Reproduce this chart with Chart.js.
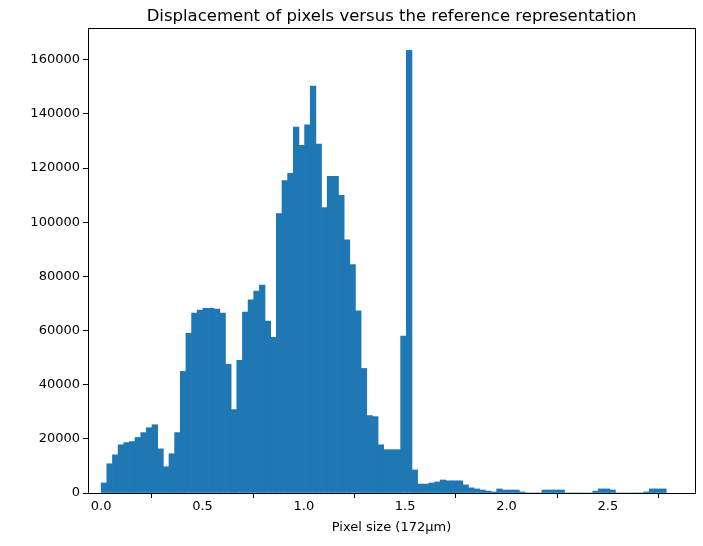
<!DOCTYPE html>
<html><head><meta charset="utf-8">
<script src="https://cdn.jsdelivr.net/npm/chart.js@4/dist/chart.umd.min.js"></script>
<style>html,body{margin:0;padding:0;background:#fff}</style>
</head><body>
<canvas id="c" width="703" height="546"></canvas>
<script>
const binStart = 0;
const binWidth = 0.02788;
const counts = [
 3700,10800,14100,17800,18600,19000,20500,22300,24100,25200,
 16300,9700,14500,22300,44900,59000,66400,67500,68200,68200,
 67900,66400,47500,30800,49000,66800,71300,74600,76800,63500,
 57500,103200,115400,118000,135100,128400,135900,150300,128800,105400,
 116900,116900,109900,93500,84300,67300,46000,28600,28200,17800,
 16000,16000,16000,57900,163500,8500,3300,3300,3700,4100,
 4800,4500,4500,4500,3000,1900,1500,1100,700,400,
 1500,1100,1100,1100,400,0,0,0,1100,1100,
 1100,1100,0,0,0,0,0,700,1500,1500,
 1100,0,0,0,0,0,400,1500,1500,1500
];
const xTicks = [0, 0.5, 1.0, 1.5, 2.0, 2.5];
const yTicks = [0, 20000, 40000, 60000, 80000, 100000, 120000, 140000, 160000];
const titleText = 'Displacement of pixels versus the reference representation';
const xLabel = 'Pixel size (172µm)';

const pts = counts.map((v, i) => ({x: binStart + (i + 0.5) * binWidth, y: v}));
const F = 'DejaVu Sans';
const frame = {id:'frame', afterDraw(ch){const a=ch.chartArea,c=ch.ctx;c.save();c.strokeStyle='#000';c.lineWidth=1;c.strokeRect(Math.round(a.left)+0.5,Math.round(a.top)+0.5,Math.round(a.right-a.left),Math.round(a.bottom-a.top));
 c.fillStyle='#000';c.textAlign='center';c.textBaseline='middle';
 c.font='16.5px "'+F+'"';c.fillText(titleText,(a.left+a.right)/2,17);
 c.font='13px "'+F+'"';c.fillText(xLabel,(a.left+a.right)/2,528);c.restore();}};
new Chart(document.getElementById('c'), {
  type: 'bar',
  data: {datasets: [{data: pts, backgroundColor: '#1f77b4', borderWidth: 0, barPercentage: 1.0, categoryPercentage: 1.0, grouped: false}]},
  options: {
    responsive: false, animation: false,
    layout: {padding: {left: 0, right: 8, top: 28, bottom: 0}},
    plugins: {legend: {display: false}, tooltip: {enabled: false}, title: {display: false}},
    scales: {
      x: {type: 'linear', min: -0.065, max: 2.93, offset: false,
        afterBuildTicks: s => { s.ticks = xTicks.map(v => ({value: v})); },
        afterFit: s => { s.height = 53; },
        grid: {display: true, drawOnChartArea: false, tickLength: 5, color: '#000'},
        border: {color: '#000'},
        ticks: {color: '#000', font: {family: F, size: 13}, padding: 1, maxRotation: 0, callback: v => v.toFixed(1)}},
      y: {min: 0, max: 171700,
        afterBuildTicks: s => { s.ticks = yTicks.map(v => ({value: v})); },
        afterFit: s => { s.width = 88; },
        grid: {display: true, drawOnChartArea: false, tickLength: 5, color: '#000'},
        border: {color: '#000'},
        ticks: {color: '#000', font: {family: F, size: 13}, padding: 3, callback: v => String(v)}}
    }
  },
  plugins: [frame]
});
</script>
</body></html>
